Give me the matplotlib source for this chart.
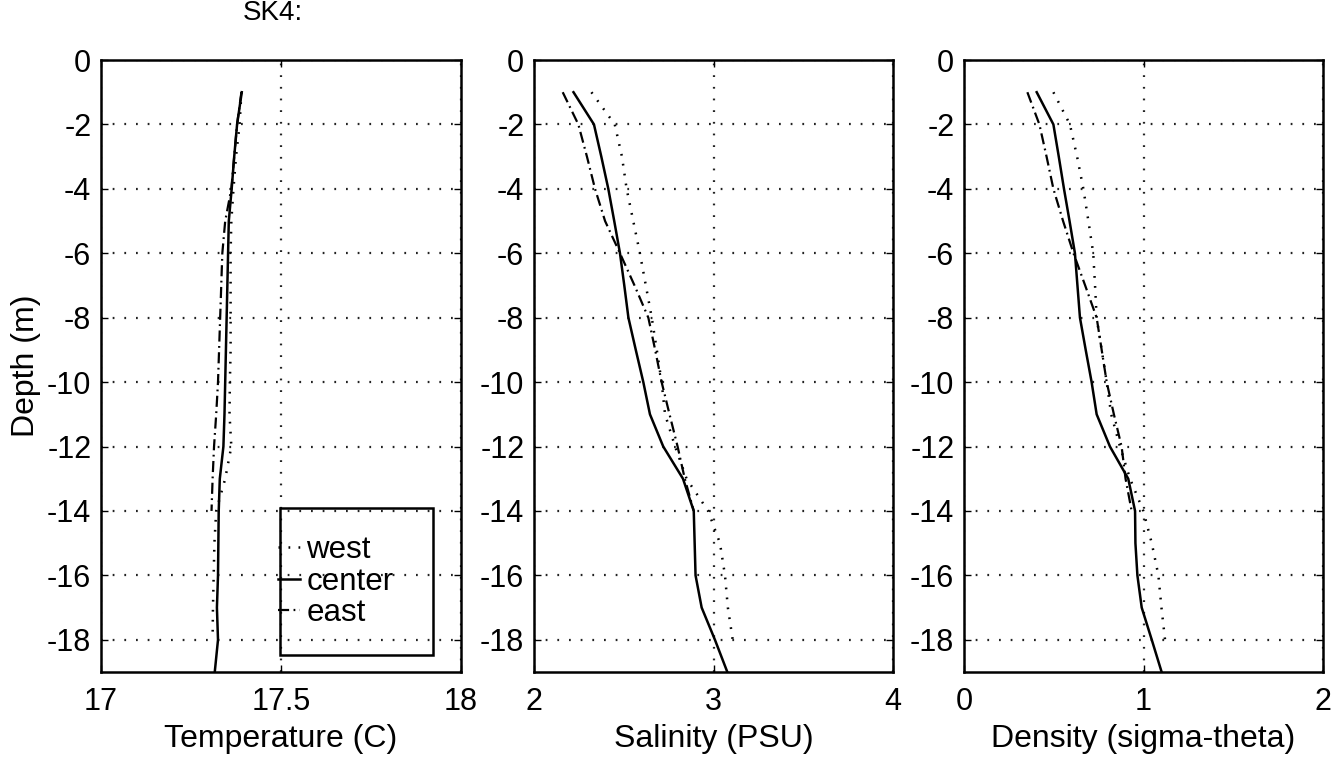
import matplotlib
matplotlib.use("Agg")
import matplotlib.pyplot as plt
from matplotlib.patches import Rectangle

plt.rcParams['font.family'] = ['Liberation Sans', 'DejaVu Sans']

# ---------------- data ----------------
depth_center = [-1, -2, -3, -4, -5, -6, -7, -8, -9, -10, -11, -12, -13, -14, -15, -16, -17, -18, -19]
depth_west = [-1, -2, -3, -4, -5, -6, -7, -8, -9, -10, -11, -12, -13, -14, -15, -16, -17, -18]
depth_east = [-1, -2, -3, -4, -5, -6, -7, -8, -9, -10, -11, -12, -13, -14]

temp_west = [17.39, 17.385, 17.375, 17.368, 17.362, 17.36, 17.36, 17.36, 17.36, 17.358,
             17.357, 17.362, 17.345, 17.32, 17.315, 17.313, 17.311, 17.31]
temp_center = [17.391, 17.378, 17.37, 17.363, 17.355, 17.353, 17.351, 17.349, 17.347, 17.345,
               17.343, 17.34, 17.33, 17.327, 17.326, 17.325, 17.322, 17.325, 17.316]
temp_east = [17.39, 17.378, 17.37, 17.362, 17.345, 17.337, 17.334, 17.331, 17.328, 17.325,
             17.32, 17.314, 17.31, 17.307]

sal_west = [2.32, 2.45, 2.49, 2.516, 2.553, 2.59, 2.623, 2.656, 2.684, 2.711,
            2.73, 2.786, 2.85, 2.97, 3.036, 3.064, 3.08, 3.107]
sal_center = [2.22, 2.334, 2.375, 2.414, 2.447, 2.479, 2.503, 2.526, 2.567, 2.609,
              2.646, 2.72, 2.83, 2.89, 2.895, 2.90, 2.934, 3.008, 3.077]
sal_east = [2.16, 2.247, 2.295, 2.34, 2.396, 2.479, 2.56, 2.637, 2.675, 2.711,
            2.755, 2.80, 2.84, 2.89]

den_west = [0.498, 0.59, 0.63, 0.665, 0.693, 0.72, 0.73, 0.739, 0.767, 0.795,
            0.82, 0.869, 0.925, 0.999, 1.046, 1.083, 1.10, 1.12]
den_center = [0.405, 0.498, 0.528, 0.557, 0.588, 0.618, 0.632, 0.646, 0.678, 0.711,
              0.739, 0.813, 0.915, 0.953, 0.955, 0.966, 0.99, 1.046, 1.101]
den_east = [0.353, 0.42, 0.46, 0.498, 0.552, 0.61, 0.675, 0.739, 0.767, 0.795,
            0.835, 0.878, 0.9, 0.934]

series_labels = ["west", "center", "east"]
xlabels = ["Temperature (C)", "Salinity (PSU)", "Density (sigma-theta)"]
xticks_list = [[17, 17.5, 18], [2, 3, 4], [0, 1, 2]]
xticklabels_list = [["17", "17.5", "18"], ["2", "3", "4"], ["0", "1", "2"]]
yticks = [0, -2, -4, -6, -8, -10, -12, -14, -16, -18]
title_text = "SK4:"
ylabel_text = "Depth (m)"

# ---------------- figure ----------------
W, H = 1343, 763
fig = plt.figure(figsize=(W / 100, H / 100), dpi=100)

def px_axes(x0, x1, y0, y1):
    return fig.add_axes([x0 / W, 1 - y1 / H, (x1 - x0) / W, (y1 - y0) / H])

axes = [px_axes(101, 461, 60, 672), px_axes(534, 893, 60, 672), px_axes(964, 1323, 60, 672)]

data = [(temp_west, temp_center, temp_east),
        (sal_west, sal_center, sal_east),
        (den_west, den_center, den_east)]

FS_TICK = 22
FS_LAB = 23
dot_style = (0, (0.7, 3.3))
dashdot_style = (0, (5.0, 2.0, 0.8, 2.0))
grid_style = (0, (0.8, 4.45))

for i, ax in enumerate(axes):
    w, c, e = data[i]
    ax.plot(w, depth_west, color='black', lw=1.8, linestyle=dot_style, label=series_labels[0])
    ax.plot(c, depth_center, color='black', lw=1.8, linestyle='-', label=series_labels[1])
    ax.plot(e, depth_east, color='black', lw=1.6, linestyle=dashdot_style, label=series_labels[2])
    xt = xticks_list[i]
    ax.set_xlim(xt[0], xt[-1])
    ax.set_ylim(-19, 0)
    ax.set_xticks(xt)
    ax.set_xticklabels(xticklabels_list[i])
    ax.set_yticks(yticks)
    ax.set_yticklabels([str(v) for v in yticks])
    ax.grid(True, color='#222222', linestyle=grid_style, linewidth=1.6)
    ax.tick_params(direction='in', length=5, width=1, labelsize=FS_TICK, pad=7,
                   top=True, right=True, colors='black')
    ax.tick_params(axis='x', pad=11)
    for sp in ax.spines.values():
        sp.set_linewidth(1.8)
        sp.set_color('black')
    ax.set_xlabel(xlabels[i], fontsize=FS_LAB, labelpad=5)

axes[0].set_ylabel(ylabel_text, fontsize=FS_LAB, labelpad=4)

# legend in first panel
ax0 = axes[0]
box_x0, box_x1, box_y0, box_y1 = 280, 433, 508, 655
bx = (box_x0 - 101) / 360
by = (672 - box_y1) / 612
bw = (box_x1 - box_x0) / 360
bh = (box_y1 - box_y0) / 612
ax0.add_patch(Rectangle((bx, by), bw, bh, transform=ax0.transAxes, fill=False,
                        edgecolor='black', lw=1.8, zorder=5))
leg = ax0.legend(loc='center left', bbox_to_anchor=(bx - 0.005, by + bh / 2),
                 frameon=False, fontsize=22.5, handlelength=0.7, handletextpad=0.2,
                 labelspacing=0.06, borderpad=0.0, borderaxespad=0.0)

fig.text(273 / W, 1 - 13 / H, title_text, fontsize=20, ha='center', va='center')

fig.savefig("out.png", dpi=100)
